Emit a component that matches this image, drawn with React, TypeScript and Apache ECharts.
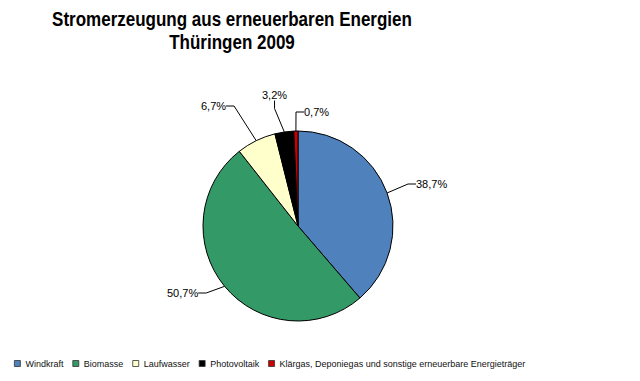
import React, { useEffect, useRef } from "react";
import * as echarts from "echarts";

const categories = [
  "Windkraft",
  "Biomasse",
  "Laufwasser",
  "Photovoltaik",
  "Klärgas, Deponiegas und sonstige erneuerbare Energieträger",
];
const values = [38.7, 50.7, 6.7, 3.2, 0.7];
const colors = ["#4F81BD", "#339966", "#FFFFCC", "#000000", "#CC0000"];
const titleLines = ["Stromerzeugung aus erneuerbaren Energien", "Thüringen 2009"];

// label anchor (left edge, vertical middle) per slice
const labelSpots: [number, number][] = [
  [416, 184],
  [167, 293],
  [201, 106],
  [262, 95],
  [304, 112],
];

export default function App() {
  const ref = useRef<HTMLDivElement>(null);
  useEffect(() => {
    const chart = echarts.init(ref.current!, null, { renderer: "svg" });
    chart.setOption({
      animation: false,
      backgroundColor: "#ffffff",
      graphic: titleLines.map((t, i) => ({
        type: "text",
        x: 232,
        y: 8 + i * 23,
        scaleX: 0.81,
        style: {
          text: t,
          fontFamily: "Liberation Sans, Arial",
          fontWeight: "bold",
          fontSize: 21,
          fill: "#000",
          textAlign: "center",
          textVerticalAlign: "top",
        },
      })),
      legend: {
        left: 9,
        top: 354,
        itemWidth: 6,
        itemHeight: 6,
        itemGap: 9,
        icon: "rect",
        textStyle: { fontFamily: "Liberation Sans, Arial", fontSize: 9, color: "#111" },
        itemStyle: { borderColor: "#333", borderWidth: 0.8 },
        data: categories,
      },
      series: [
        {
          type: "pie",
          center: [298, 226],
          radius: 95,
          startAngle: 90,
          clockwise: true,
          data: categories.map((c, i) => ({
            name: c,
            value: values[i],
            itemStyle: { color: colors[i] },
          })),
          itemStyle: { borderColor: "#000", borderWidth: 1 },
          label: {
            show: true,
            formatter: (p: any) => p.value.toFixed(1).replace(".", ",") + "%",
            fontFamily: "Liberation Sans, Arial",
            fontSize: 11,
            color: "#000",
          },
          labelLine: { show: true, length: 14, length2: 8, lineStyle: { color: "#000", width: 1 } },
          labelLayout: (p: any) => {
            const s = labelSpots[p.dataIndex];
            return { x: s[0], y: s[1], align: "left", verticalAlign: "middle" };
          },
        },
      ],
    });
    return () => chart.dispose();
  }, []);
  return (
    <div
      ref={ref}
      style={{ position: "fixed", left: 0, top: 0, width: 640, height: 381 }}
    />
  );
}
